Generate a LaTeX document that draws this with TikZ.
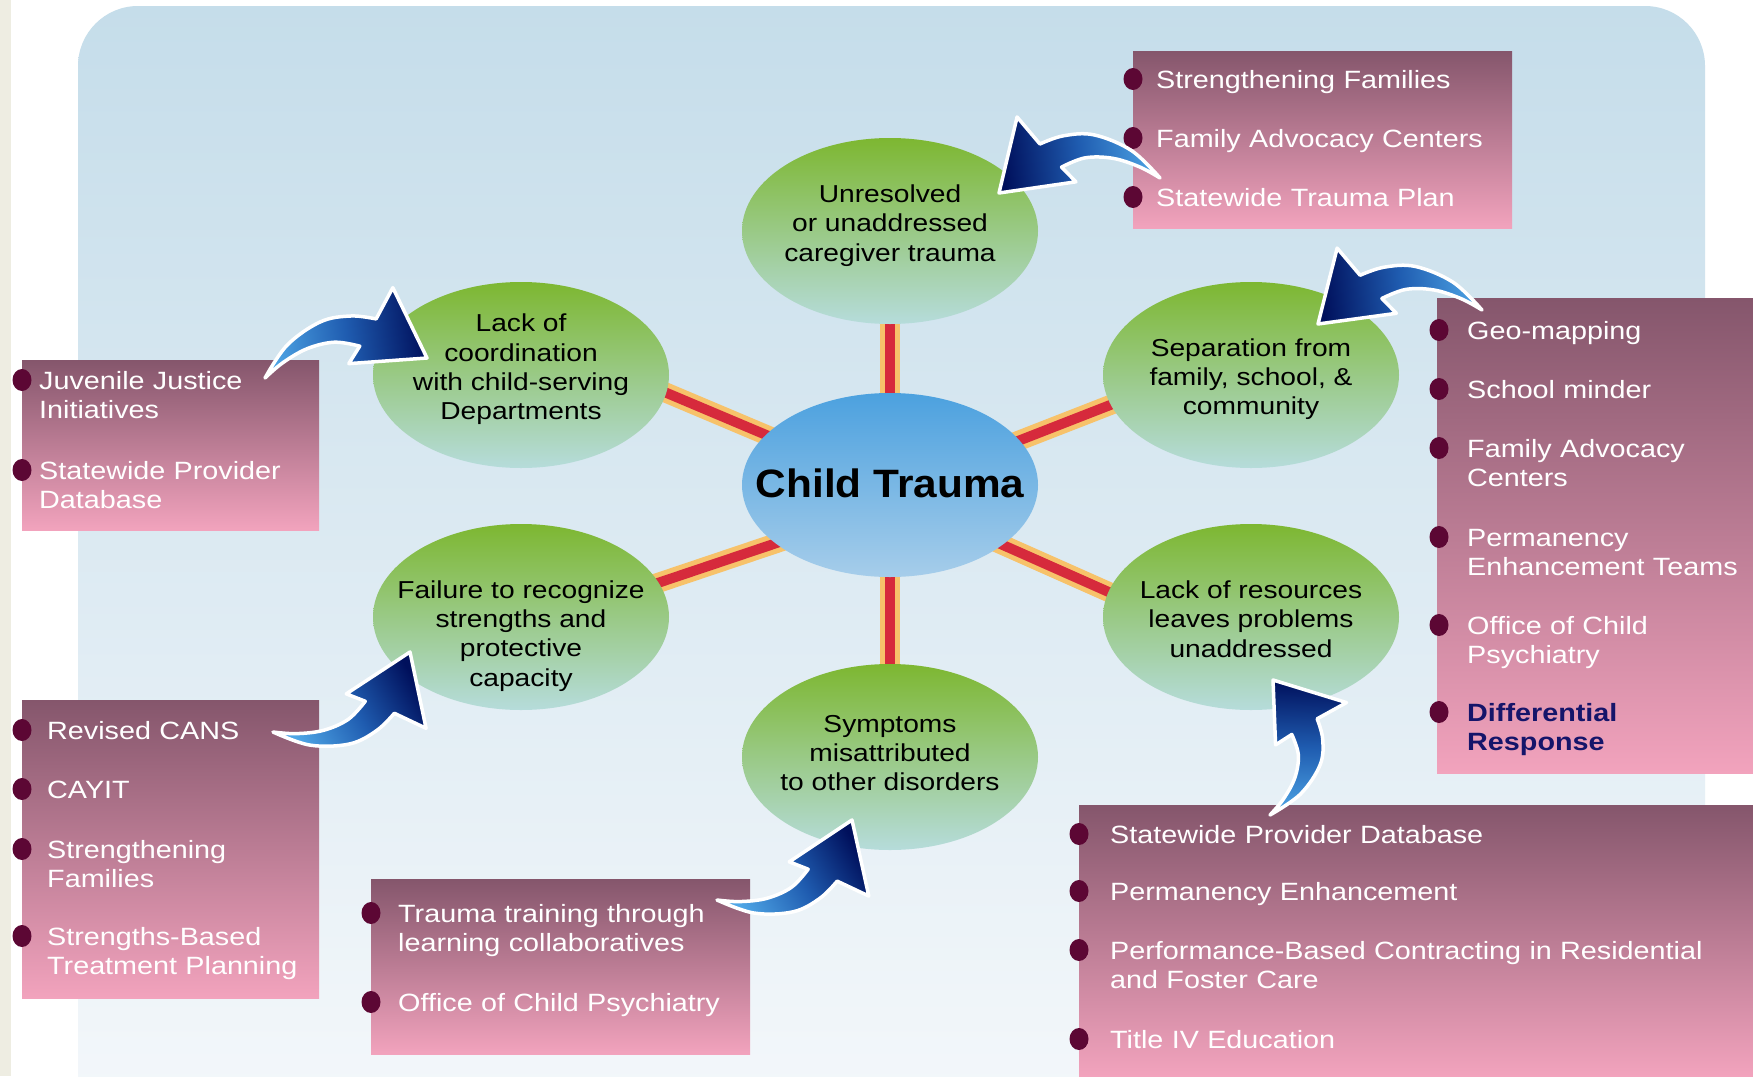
\documentclass[tikz,border=0pt]{standalone}
\usepackage{fontspec}
\setmainfont[FakeStretch=1.15]{Liberation Sans}
\newfontfamily\titlefont[FakeStretch=1.07]{Liberation Sans}
\usetikzlibrary{shapes.geometric,calc}
\definecolor{bgtop}{HTML}{C5DDEA}
\definecolor{bgbot}{HTML}{F5F8FB}
\definecolor{beige}{HTML}{EEEDE2}
\definecolor{gtop}{HTML}{7DB731}
\definecolor{gbot}{HTML}{B6DCDB}
\definecolor{ctop}{HTML}{4CA1DF}
\definecolor{cbot}{HTML}{A6CDEA}
\definecolor{linered}{HTML}{D62A3C}
\definecolor{lineyel}{HTML}{F7C26A}
\definecolor{boxtop}{HTML}{85566C}
\definecolor{boxbot}{HTML}{F2A3BD}
\definecolor{bul}{HTML}{5C0734}
\definecolor{arrlight}{HTML}{4FA6E6}
\definecolor{arrmid}{HTML}{1F5CB0}
\definecolor{arrnavy}{HTML}{00105C}
\definecolor{drnavy}{HTML}{15156A}
\pgfdeclarelayer{bglayer}
\pgfdeclarelayer{linelayer}
\pgfsetlayers{bglayer,linelayer,main}
\newcommand{\boxfont}{\fontsize{25}{29.4}\selectfont}
\newcommand{\ellfont}{\fontsize{24.5}{29.3}\selectfont}
\newcommand{\blockarrow}[5]{%
 \coordinate (#1o1) at ($(#2)!0.16!(#3)!30pt!#4:(#3)$);
 \coordinate (#1o2) at ($(#2)!0.38!(#3)!49pt!#4:(#3)$);
 \coordinate (#1o3) at ($(#2)!0.57!(#3)!51pt!#4:(#3)$);
 \coordinate (#1no) at ($(#2)!0.72!(#3)!45pt!#4:(#3)$);
 \coordinate (#1ob) at ($(#2)!0.845!(#3)!74pt!#4:(#3)$);
 \coordinate (#1ib) at ($(#2)!0.52!(#3)!4pt!#4:(#3)$);
 \coordinate (#1ni) at ($(#2)!0.60!(#3)!20pt!#4:(#3)$);
 \coordinate (#1i1) at ($(#2)!0.45!(#3)!27pt!#4:(#3)$);
 \coordinate (#1i2) at ($(#2)!0.28!(#3)!24pt!#4:(#3)$);
 \coordinate (#1i3) at ($(#2)!0.12!(#3)!13pt!#4:(#3)$);
 \shadedraw[arrowbody, shading angle=#5]
   plot[smooth, tension=0.6] coordinates {(#2) (#1o1) (#1o2) (#1o3) (#1no)}
   -- (#1ob) -- (#3) -- (#1ib)
   -- plot[smooth, tension=0.6] coordinates {(#1ni) (#1i1) (#1i2) (#1i3) (#2)} -- cycle;
}
\begin{document}
\begin{tikzpicture}[x=1pt,y=-1pt,
  pbox/.style={rectangle, anchor=north west, inner sep=0, top color=boxtop, bottom color=boxbot, draw=none},
  bull/.style={ellipse, fill=bul, minimum width=19, minimum height=22, inner sep=0},
  itm/.style={anchor=base west, inner sep=0, align=left, text width=640, font=\boxfont, text=white},
  gell/.style={ellipse, minimum width=296, minimum height=186, inner sep=0, top color=gtop, bottom color=gbot},
  cell/.style={ellipse, minimum width=296, minimum height=184, inner sep=0, top color=ctop, bottom color=cbot},
  ttext/.style={inner sep=0, font=\titlefont\fontsize{39.6}{42}\selectfont\bfseries, text=black},
  etext/.style={align=center, inner sep=0, font=\ellfont, text=black},
  yelline/.style={line width=20, draw=lineyel, shorten <=-8pt, shorten >=-8pt},
  redline/.style={line width=10, draw=linered, shorten <=-8pt, shorten >=-8pt},
  arrowbody/.style={draw=white, line width=3.5, line join=round, top color=arrnavy, bottom color=arrlight, middle color=arrmid}
]
\useasboundingbox (0,0) rectangle (1753,1076);
\begin{pgfonlayer}{bglayer}
  \fill[white] (0,0) rectangle (1753,1076);
  \fill[beige] (0,0) rectangle (11,1076);
  \shade[top color=bgtop, bottom color=bgbot, rounded corners=60] (78,6) rectangle (1705,1136);
\end{pgfonlayer}

% ellipses
\node[cell] (c) at (890,485) {};
\node[ttext] (ct) at (890,483) {Child Trauma};
\node[gell] (eT) at (890,231) {};
\node[gell] (eUL) at (521,375) {};
\node[gell] (eUR) at (1251,375) {};
\node[gell] (eLL) at (521,617) {};
\node[gell] (eLR) at (1251,617) {};
\node[gell] (eB) at (890,757) {};

\node[etext] (tT) at (890,225.5) {Unresolved\\or unaddressed\\caregiver trauma};
\node[etext] (tUL) at (521,369.5) {Lack of\\coordination\\with child-serving\\Departments};
\node[etext] (tUR) at (1251,379) {Separation from\\family, school, \&\\community};
\node[etext] (tLL) at (521,636) {Failure to recognize\\strengths and\\protective\\capacity};
\node[etext] (tLR) at (1251,619) {Lack of resources\\leaves problems\\unaddressed};
\node[etext] (tB) at (890,753) {Symptoms\\misattributed\\to other disorders};

\begin{pgfonlayer}{linelayer}
  \foreach \p/\q in {c.north/eT.south, c.south/eB.north, c.158/eUL.353, c.19/eUR.192, c.207/eLL.14, c.332/eLR.170} {
    \draw[yelline] (\p) -- (\q);
    \draw[redline] (\p) -- (\q);
  }
\end{pgfonlayer}

% boxes
\node[pbox, minimum width=379, minimum height=177] (bx1) at (1133,51) {};
\node[pbox, minimum width=297, minimum height=170] (bx2) at (22,360) {};
\node[pbox, minimum width=316, minimum height=475] (bx3) at (1437,298) {};
\node[pbox, minimum width=297, minimum height=298] (bx4) at (22,700) {};
\node[pbox, minimum width=379, minimum height=175] (bx5) at (371,879) {};
\node[pbox, minimum width=674, minimum height=271] (bx6) at (1079,805) {};

% top box
\node[bull] (u11) at (1133,79) {};
\node[bull] (u12) at (1133,138) {};
\node[bull] (u13) at (1133,197) {};
\node[itm] (i11) at (1156,88) {Strengthening Families};
\node[itm] (i12) at (1156,147) {Family Advocacy Centers};
\node[itm] (i13) at (1156,206) {Statewide Trauma Plan};

% upper left box
\node[bull] (u21) at (22,380) {};
\node[bull] (u22) at (22,470) {};
\node[itm] (i21) at (39,389) {Juvenile Justice\\Initiatives};
\node[itm] (i22) at (39,479) {Statewide Provider\\Database};

% right box
\node[bull] (u31) at (1439,330) {};
\node[bull] (u32) at (1439,389) {};
\node[bull] (u33) at (1439,448) {};
\node[bull] (u34) at (1439,537) {};
\node[bull] (u35) at (1439,625) {};
\node[bull] (u36) at (1439,712) {};
\node[itm] (i31) at (1467,339) {Geo-mapping};
\node[itm] (i32) at (1467,398) {School minder};
\node[itm] (i33) at (1467,457) {Family Advocacy\\Centers};
\node[itm] (i34) at (1467,546) {Permanency\\Enhancement Teams};
\node[itm] (i35) at (1467,634) {Office of Child\\Psychiatry};
\node[itm, text=drnavy, font=\boxfont\bfseries] (i36) at (1467,721) {Differential\\Response};

% lower left box
\node[bull] (u41) at (22,730) {};
\node[bull] (u42) at (22,789) {};
\node[bull] (u43) at (22,849) {};
\node[bull] (u44) at (22,936) {};
\node[itm] (i41) at (47,739) {Revised CANS};
\node[itm] (i42) at (47,798) {CAYIT};
\node[itm] (i43) at (47,858) {Strengthening\\Families};
\node[itm] (i44) at (47,945) {Strengths-Based\\Treatment Planning};

% bottom middle box
\node[bull] (u51) at (371,913) {};
\node[bull] (u52) at (371,1002) {};
\node[itm] (i51) at (398,922) {Trauma training through\\learning collaboratives};
\node[itm] (i52) at (398,1011) {Office of Child Psychiatry};

% bottom right box
\node[bull] (u61) at (1079,834) {};
\node[bull] (u62) at (1079,891) {};
\node[bull] (u63) at (1079,950) {};
\node[bull] (u64) at (1079,1039) {};
\node[itm] (i61) at (1110,843) {Statewide Provider Database};
\node[itm] (i62) at (1110,900) {Permanency Enhancement};
\node[itm] (i63) at (1110,959) {Performance-Based Contracting in Residential\\and Foster Care};
\node[itm] (i64) at (1110,1048) {Title IV Education};

% arrows
\coordinate (a1t) at (1160,178); \coordinate (a1p) at (999,193);
\coordinate (a2t) at (1482,310); \coordinate (a2p) at (1318,324);
\coordinate (a3t) at (265,378);  \coordinate (a3p) at (427,358);
\coordinate (a4t) at (273,732);  \coordinate (a4p) at (410,652);
\coordinate (a5t) at (717,900);  \coordinate (a5p) at (852,820);
\coordinate (a6t) at (1270,815); \coordinate (a6p) at (1273,680);
\blockarrow{a1}{a1t}{a1p}{-90}{95.3}
\blockarrow{a2}{a2t}{a2p}{-90}{94.9}
\blockarrow{a3}{a3t}{a3p}{90}{-82.9}
\blockarrow{a4}{a4t}{a4p}{-90}{-59.7}
\blockarrow{a5}{a5t}{a5p}{-90}{-59.3}
\blockarrow{a6}{a6t}{a6p}{-90}{-1.3}
\end{tikzpicture}
\end{document}
